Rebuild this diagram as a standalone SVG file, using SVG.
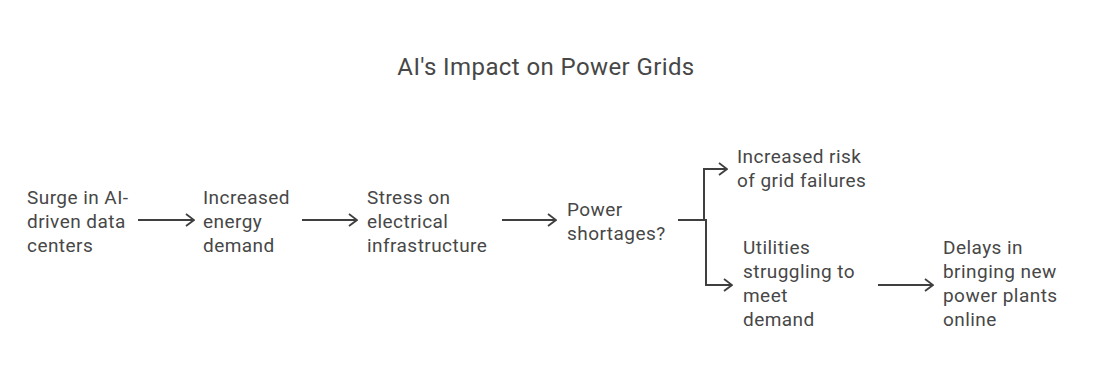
<svg xmlns="http://www.w3.org/2000/svg" width="1098" height="382" viewBox="0 0 1098 382">
<defs>
<marker id="ah" viewBox="0 0 10 14" refX="9" refY="7" markerWidth="10" markerHeight="14" markerUnits="userSpaceOnUse" orient="auto">
<path d="M1,1 L9,7 L1,13" fill="none" stroke="#3f3f3f" stroke-width="1.8"/>
</marker>
<style>
text{font-family:Roboto,"Liberation Sans",sans-serif;fill:#474747;font-size:19px;letter-spacing:0.45px}
.t{font-size:24px;letter-spacing:0.4px;text-anchor:middle}
.c{fill:none;stroke:#3f3f3f;stroke-width:2}
</style>
</defs>
<rect width="1098" height="382" fill="#ffffff"/>
<text class="t" x="546" y="75">AI's Impact on Power Grids</text>
<g id="n1"><text x="27" y="204">Surge in AI-</text><text x="27" y="228">driven data</text><text x="27" y="252">centers</text></g>
<g id="n2"><text x="203" y="204">Increased</text><text x="203" y="228">energy</text><text x="203" y="252">demand</text></g>
<g id="n3"><text x="367" y="204">Stress on</text><text x="367" y="228">electrical</text><text x="367" y="252">infrastructure</text></g>
<g id="n4"><text x="567" y="216">Power</text><text x="567" y="240">shortages?</text></g>
<g id="n5"><text x="737" y="163">Increased risk</text><text x="737" y="187">of grid failures</text></g>
<g id="n6"><text x="743" y="254">Utilities</text><text x="743" y="278">struggling to</text><text x="743" y="302">meet</text><text x="743" y="326">demand</text></g>
<g id="n7"><text x="943" y="254">Delays in</text><text x="943" y="278">bringing new</text><text x="943" y="302">power plants</text><text x="943" y="326">online</text></g>
<g id="connectors">
<line class="c" x1="138" y1="220" x2="194" y2="220" marker-end="url(#ah)"/>
<line class="c" x1="302" y1="220" x2="357" y2="220" marker-end="url(#ah)"/>
<line class="c" x1="502" y1="220" x2="556" y2="220" marker-end="url(#ah)"/>
<path class="c" d="M678,220 H704 V169 H727" marker-end="url(#ah)"/>
<path class="c" d="M704,220 H706 V285 H732" marker-end="url(#ah)"/>
<line class="c" x1="878" y1="285" x2="933" y2="285" marker-end="url(#ah)"/>
</g>
</svg>
